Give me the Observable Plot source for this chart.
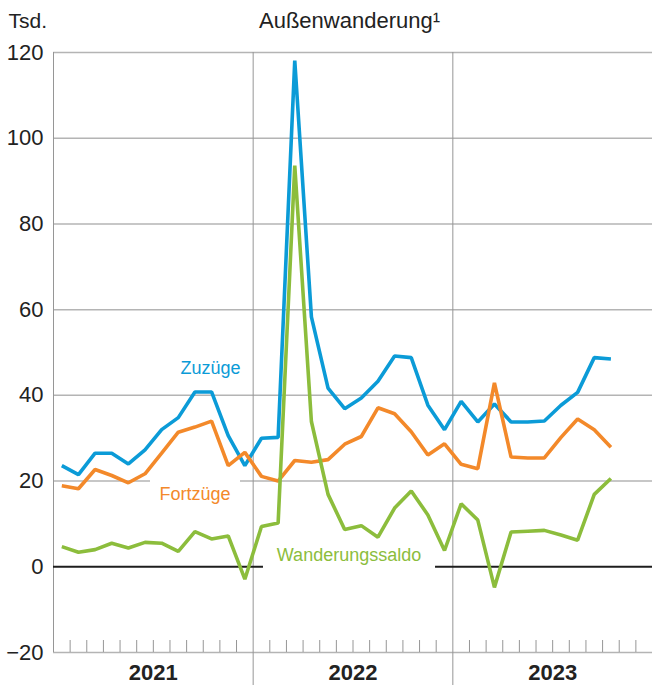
<!DOCTYPE html>
<html>
<head>
<meta charset="utf-8">
<script src="https://cdn.jsdelivr.net/npm/d3@7"></script>
<script src="https://cdn.jsdelivr.net/npm/@observablehq/plot@0.6"></script>
<style>
  html, body { margin: 0; padding: 0; background: #fff; }
</style>
</head>
<body>
<div id="chart"></div>
<script>
// Monthly values, Jan 2021 – Oct 2023 (thousands)
const years = ["2021", "2022", "2023"];
const zuzuege = [
  23.6, 21.5, 26.5, 26.5, 24.0, 27.3, 32.0, 34.8, 40.8, 40.8, 30.6, 23.6,
  30.0, 30.2, 118.1, 58.3, 41.7, 36.9, 39.4, 43.3, 49.2, 48.8, 37.7, 32.0,
  38.6, 33.8, 38.0, 33.8, 33.8, 34.0, 37.7, 40.7, 48.8, 48.5
];
const fortzuege = [
  18.9, 18.2, 22.7, 21.3, 19.6, 21.7, 26.5, 31.4, 32.6, 34.0, 23.6, 26.7,
  21.1, 20.0, 24.8, 24.4, 25.0, 28.6, 30.4, 37.1, 35.7, 31.5, 26.1, 28.7,
  23.9, 22.9, 42.9, 25.6, 25.4, 25.4, 30.2, 34.5, 32.0, 27.9
];
const saldo = [
  4.7, 3.4, 4.0, 5.5, 4.4, 5.7, 5.5, 3.6, 8.2, 6.5, 7.2, -2.9,
  9.4, 10.2, 93.6, 33.9, 16.9, 8.7, 9.6, 6.9, 13.7, 17.7, 12.1, 3.8,
  14.7, 10.9, -4.8, 8.1, 8.3, 8.5, 7.4, 6.2, 16.9, 20.6
];
const yTicks = [-20, 0, 20, 40, 60, 80, 100, 120];
const seriesNames = ["Zuzüge", "Fortzüge", "Wanderungssaldo"];
const seriesColors = ["#0b9bd7", "#f3892a", "#8cbd3c"];

const nMonths = years.length * 12;
const monthTicks = d3.range(1, nMonths).filter(k => k % 12 !== 0);
const yearBounds = d3.range(12, nMonths, 12);
const toRows = vals => vals.map((v, i) => ({m: i + 0.5, v}));

const gridGrey = "#b4b4b4";
const sepGrey = "#969696";

const chart = Plot.plot({
  width: 652,
  height: 685,
  marginTop: 52,
  marginBottom: 33,
  marginLeft: 53,
  marginRight: 0,
  style: {fontFamily: "'Liberation Sans', Arial, sans-serif", color: "#222", background: "#fff"},
  x: {domain: [0, nMonths], axis: null},
  y: {domain: [-20, 120]},
  marks: [
    // horizontal grid (20 and 0 lines interrupted by labels)
    Plot.ruleY(yTicks.filter(t => t >= 40), {stroke: gridGrey, strokeWidth: 1.5}),
    Plot.ruleY([{y: 20, a: 0, b: 5.83}, {y: 20, a: 11.24, b: nMonths}],
      {y: "y", x1: "a", x2: "b", stroke: gridGrey, strokeWidth: 1.5}),
    Plot.ruleY([-20], {stroke: gridGrey, strokeWidth: 1.5}),
    // left frame, year separators, month ticks
    Plot.ruleX([0], {y1: -20, y2: 120, stroke: sepGrey, strokeWidth: 1}),
    Plot.ruleX(yearBounds, {y1: 120, y2: -20, insetBottom: -33, stroke: sepGrey, strokeWidth: 1}),
    Plot.ruleX(monthTicks, {y1: -20, y2: -17.2, stroke: sepGrey, strokeWidth: 1}),
    // zero line with gap for label
    Plot.ruleY([{y: 0, a: 0, b: 12.62}, {y: 0, a: 22.96, b: nMonths}],
      {y: "y", x1: "a", x2: "b", stroke: "#1e1e1e", strokeWidth: 2}),
    // series
    Plot.line(toRows(zuzuege), {x: "m", y: "v", stroke: seriesColors[0], strokeWidth: 3.6,
      strokeLinejoin: "miter", strokeLinecap: "butt"}),
    Plot.line(toRows(fortzuege), {x: "m", y: "v", stroke: seriesColors[1], strokeWidth: 3.6,
      strokeLinejoin: "miter", strokeLinecap: "butt"}),
    Plot.line(toRows(saldo), {x: "m", y: "v", stroke: seriesColors[2], strokeWidth: 3.6,
      strokeLinejoin: "miter", strokeLinecap: "butt"}),
    // series labels
    Plot.text([seriesNames[0]], {x: 9.43, y: 45.0, lineAnchor: "bottom", fill: seriesColors[0], fontSize: 18}),
    Plot.text([seriesNames[1]], {x: 8.5, y: 15.6, lineAnchor: "bottom", fill: seriesColors[1], fontSize: 18}),
    Plot.text([seriesNames[2]], {x: 17.76, y: 1.4, lineAnchor: "bottom", fill: seriesColors[2], fontSize: 18}),
    // y axis labels
    Plot.axisY(yTicks, {anchor: "left", tickSize: 0, tickPadding: 10, fontSize: 22, fill: "#222",
      tickFormat: d3.format("d")}),
    // year labels
    Plot.text(years, {x: (d, i) => i * 12 + 6, y: -20, dy: 20, lineAnchor: "middle",
      fontWeight: "bold", fontSize: 22, fill: "#222"}),
    // unit and title
    Plot.text(["Tsd."], {frameAnchor: "top-left", dx: -45, dy: -25, lineAnchor: "bottom",
      textAnchor: "start", fontSize: 21, fill: "#222"}),
    Plot.text(["Außenwanderung¹"], {frameAnchor: "top", dx: -3.5, dy: -25, lineAnchor: "bottom",
      fontSize: 22, fill: "#222"})
  ]
});
document.getElementById("chart").appendChild(chart);
</script>
</body>
</html>
